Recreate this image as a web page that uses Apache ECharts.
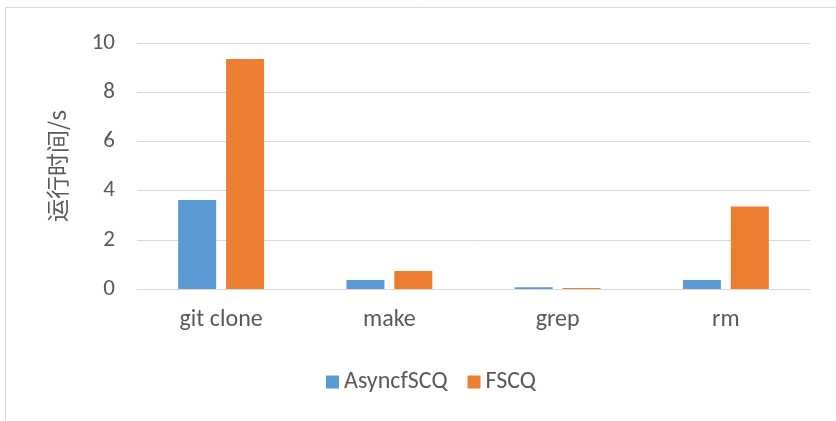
<!DOCTYPE html>
<html>
<head>
<meta charset="utf-8">
<script src="https://cdn.jsdelivr.net/npm/echarts@6/dist/echarts.min.js"></script>
<style>
  html, body { margin: 0; padding: 0; background: #fff; }
  #main { width: 836px; height: 421px; }
</style>
</head>
<body>
<div id="main"></div>
<script>
// data
var categories = ['git clone', 'make', 'grep', 'rm'];
var asyncfscq = [3.62, 0.37, 0.07, 0.37];
var fscq = [9.35, 0.73, 0.04, 3.35];
var seriesNames = ['AsyncfSCQ', 'FSCQ'];

var chart = echarts.init(document.getElementById('main'));

var textColor = '#595959';
var font = 'Calibri, "Liberation Sans", "Noto Sans", sans-serif';

chart.setOption({
  backgroundColor: '#ffffff',
  animation: false,
  graphic: [{
    type: 'rect',
    shape: { x: 5.5, y: 7.5, width: 840, height: 420 },
    style: { fill: 'none', stroke: '#d9d9d9', lineWidth: 1 }
  }],
  legend: {
    data: seriesNames,
    bottom: 27,
    left: 326,
    padding: 0,
    itemWidth: 13,
    itemHeight: 13,
    itemGap: 20,
    icon: 'rect',
    textStyle: { color: textColor, fontSize: 24, fontFamily: font }
  },
  grid: {
    left: 137,
    right: 26,
    top: 43,
    bottom: 132
  },
  xAxis: {
    type: 'category',
    data: categories,
    axisLine: { lineStyle: { color: '#d9d9d9', width: 1 } },
    axisTick: { show: false },
    axisLabel: { color: textColor, fontSize: 24, fontFamily: font, margin: 19 }
  },
  yAxis: {
    type: 'value',
    min: 0,
    max: 10,
    interval: 2,
    name: '运行时间/s',
    nameLocation: 'middle',
    nameGap: 68,
    nameRotate: 90,
    nameTextStyle: { color: textColor, fontSize: 23, fontFamily: '"Noto Sans CJK SC", sans-serif' },
    axisLine: { show: false },
    axisTick: { show: false },
    splitLine: { lineStyle: { color: '#d9d9d9', width: 1 } },
    axisLabel: { color: textColor, fontSize: 23, fontFamily: font, margin: 22 }
  },
  series: [
    {
      name: seriesNames[0],
      type: 'bar',
      data: asyncfscq,
      barWidth: 38,
      barGap: '26%',
      itemStyle: { color: '#5b9bd5' }
    },
    {
      name: seriesNames[1],
      type: 'bar',
      data: fscq,
      barWidth: 38,
      itemStyle: { color: '#ed7d31' }
    }
  ]
});
</script>
</body>
</html>
